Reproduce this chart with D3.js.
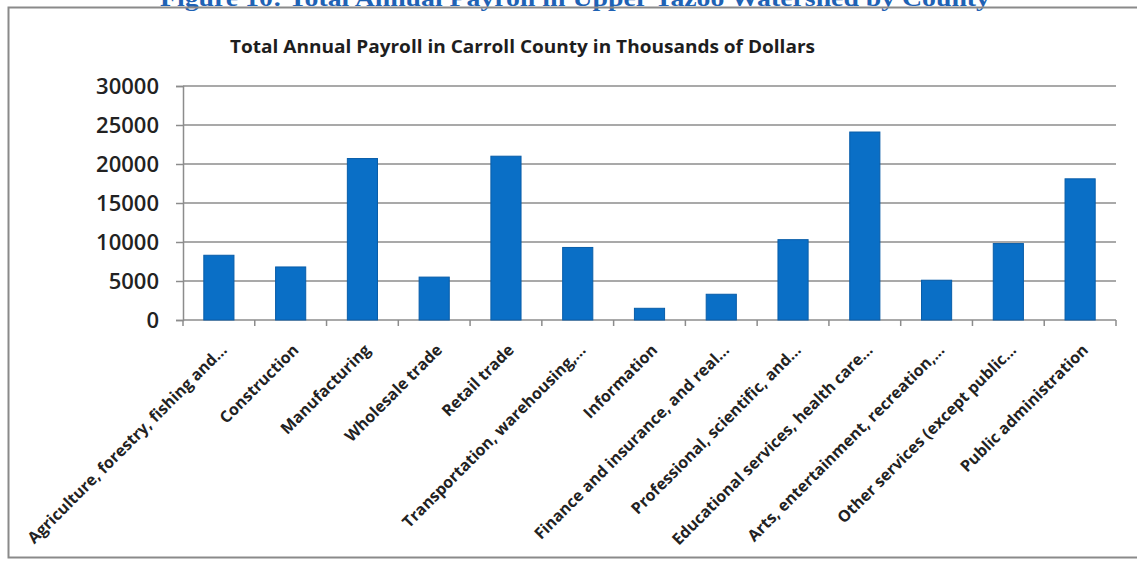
<!DOCTYPE html>
<html>
<head>
<meta charset="utf-8">
<script src="https://cdn.jsdelivr.net/npm/d3@7"></script>
<style>
  html, body { margin: 0; padding: 0; background: #fff; }
  svg { display: block; }
</style>
</head>
<body>
<svg id="chart" width="1137" height="561"></svg>
<script>
const headerText = "Figure 10: Total Annual Payroll in Upper Yazoo Watershed by County";
const chartTitle = "Total Annual Payroll in Carroll County in Thousands of Dollars";
const categories = [
  "Agriculture, forestry, fishing and...",
  "Construction",
  "Manufacturing",
  "Wholesale trade",
  "Retail trade",
  "Transportation, warehousing,...",
  "Information",
  "Finance and insurance, and real...",
  "Professional, scientific, and...",
  "Educational services, health care...",
  "Arts, entertainment, recreation,...",
  "Other services (except public...",
  "Public administration"
];
const payroll = [8300, 6800, 20700, 5500, 21000, 9300, 1500, 3300, 10300, 24100, 5100, 9800, 18100];
const yTicks = [0, 5000, 10000, 15000, 20000, 25000, 30000];

const svg = d3.select("#chart");

// header (cut off at top of the image, as in the source scan)
svg.append("text")
  .attr("x", 160).attr("y", 6)
  .attr("textLength", 830).attr("lengthAdjust", "spacingAndGlyphs")
  .style("font-family", "'Liberation Serif', serif")
  .style("font-weight", "bold").style("font-size", "24px")
  .style("fill", "#1f62b4")
  .text(headerText);

// frame
svg.append("rect")
  .attr("x", 8.5).attr("y", 7.5).attr("width", 1140).attr("height", 550)
  .attr("fill", "none").attr("stroke", "#8a8a8a").attr("stroke-width", 2);

// title
svg.append("text")
  .attr("x", 230).attr("y", 53)
  .attr("textLength", 585).attr("lengthAdjust", "spacingAndGlyphs")
  .style("font-family", "'Open Sans', sans-serif")
  .style("font-weight", "bold").style("font-size", "17px")
  .style("fill", "#1e1e1e")
  .text(chartTitle);

const x = d3.scaleBand().domain(categories).range([183, 1116])
  .paddingInner(0.58).paddingOuter(0.29);
const y = d3.scaleLinear().domain([0, 30000]).range([320, 86]);

// gridlines
svg.append("g").selectAll("line").data(yTicks.filter(d => d > 0)).join("line")
  .attr("x1", 183).attr("x2", 1116)
  .attr("y1", d => y(d)).attr("y2", d => y(d))
  .attr("stroke", "#8c8c8c").attr("stroke-width", 1.5);

// y axis
const yAxis = svg.append("g").attr("transform", "translate(183,0)")
  .call(d3.axisLeft(y).tickValues(yTicks).tickSize(7).tickPadding(17).tickFormat(d3.format("d")));
yAxis.select(".domain").attr("stroke", "#8c8c8c").attr("stroke-width", 1.5);
yAxis.selectAll(".tick line").attr("stroke", "#8c8c8c").attr("stroke-width", 1.5);
yAxis.selectAll(".tick text")
  .style("font-family", "'Open Sans', sans-serif")
  .style("font-weight", "600").style("font-size", "22px")
  .style("fill", "#222");

// x axis line and tick marks at band boundaries
const boundaries = d3.range(categories.length + 1).map(i => x.range()[0] + i * x.step());
svg.append("line")
  .attr("x1", 183).attr("x2", 1116).attr("y1", 320).attr("y2", 320)
  .attr("stroke", "#8c8c8c").attr("stroke-width", 1.5);
svg.append("g").selectAll("line").data(boundaries).join("line")
  .attr("x1", d => d).attr("x2", d => d).attr("y1", 320).attr("y2", 326)
  .attr("stroke", "#8c8c8c").attr("stroke-width", 1.5);

// bars
svg.append("g").selectAll("rect").data(categories).join("rect")
  .attr("x", d => x(d)).attr("width", x.bandwidth())
  .attr("y", (d, i) => y(payroll[i])).attr("height", (d, i) => y(0) - y(payroll[i]))
  .attr("fill", "#0a6fc6").attr("stroke", "#085da9").attr("stroke-width", 1);

// x labels
svg.append("g").selectAll("text").data(categories).join("text")
  .attr("transform", d => `translate(${x(d) + x.bandwidth() / 2 + 9},${351}) rotate(-45)`)
  .attr("text-anchor", "end")
  .style("font-family", "'Open Sans', sans-serif")
  .style("font-weight", "bold").style("font-size", "16px")
  .style("fill", "#222")
  .text(d => d);
</script>
</body>
</html>
